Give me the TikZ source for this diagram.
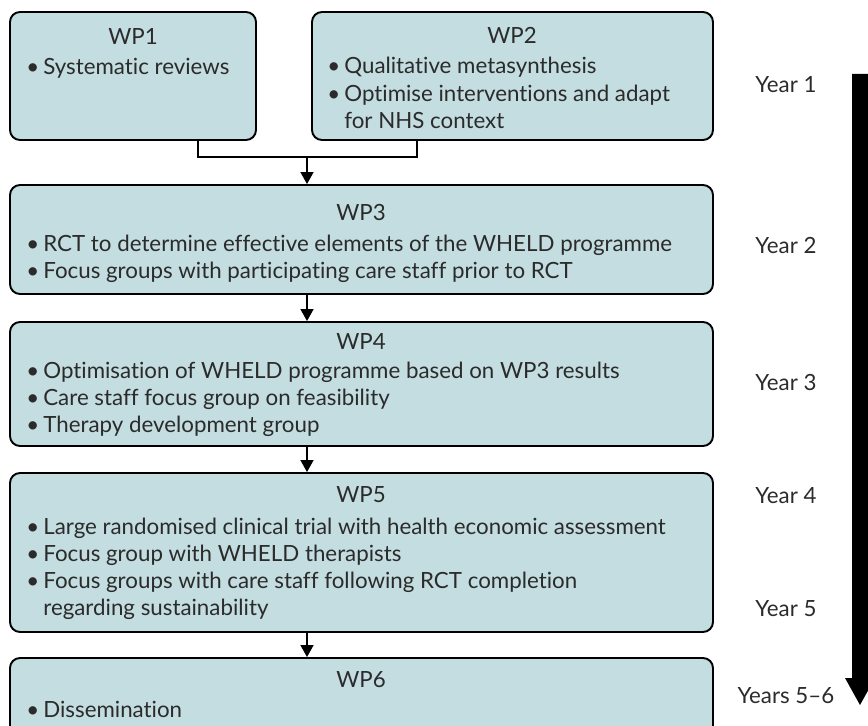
\documentclass[tikz,border=0pt]{standalone}
\usepackage{fontspec}
\setmainfont{Lato}[Ligatures=NoCommon]
\usetikzlibrary{arrows.meta,fit}
\definecolor{wpfill}{HTML}{C3DDE0}
\definecolor{wptext}{HTML}{2B2B2B}

\newcommand{\wpitem}{\makebox[0.34cm][l]{\textbullet}}
\newcommand{\wpcont}{\hspace*{0.34cm}}
\newcommand{\wplines}[1]{\begin{tabular}[t]{@{}l@{}}#1\end{tabular}}

\tikzset{
  wpbox/.style={draw=black, line width=1.1pt, fill=wpfill, rounded corners=0.2cm, inner sep=0pt},
  wptitle/.style={anchor=base, inner sep=0pt, text=wptext},
  wplist/.style={anchor=base west, inner sep=0pt, text=wptext},
  yearlabel/.style={anchor=base, inner sep=0pt, text=wptext},
  link/.style={line width=0.85pt, -{Triangle[width=0.26cm,length=0.24cm]}},
}

\begin{document}
\begin{tikzpicture}[x=0.02cm, y=-0.02cm, font=\fontsize{12.7}{15.5}\selectfont]
    \useasboundingbox (0,0) rectangle (868,726);
    \clip (0,0) rectangle (868,726);

    % work package boxes
    \node[wpbox, fit={(10,12) (256,140)}] (wp1) {};
    \node[wpbox, fit={(312,12) (713,140)}] (wp2) {};
    \node[wpbox, fit={(10,185) (713,294)}] (wp3) {};
    \node[wpbox, fit={(10,322) (713,446)}] (wp4) {};
    \node[wpbox, fit={(10,473) (713,632)}] (wp5) {};
    \node[wpbox, fit={(10,658) (713,740)}] (wp6) {};

    % box texts
    \node (wp1t) at (133,45) [wptitle] {WP1};
    \node (wp1l) at (26,75) [wplist] {\wplines{\wpitem Systematic reviews}};

    \node (wp2t) at (512,44) [wptitle] {WP2};
    \node (wp2l) at (327,74) [wplist] {\wplines{\wpitem Qualitative metasynthesis\\
        \wpitem Optimise interventions and adapt\\
        \wpcont for NHS context}};

    \node (wp3t) at (361,220) [wptitle] {WP3};
    \node (wp3l) at (26,251) [wplist] {\wplines{\wpitem RCT to determine effective elements of the WHELD programme\\
        \wpitem Focus groups with participating care staff prior to RCT}};

    \node (wp4t) at (361,349) [wptitle] {WP4};
    \node (wp4l) at (26,378) [wplist] {\wplines{\wpitem Optimisation of WHELD programme based on WP3 results\\
        \wpitem Care staff focus group on feasibility\\
        \wpitem Therapy development group}};

    \node (wp5t) at (361,502) [wptitle] {WP5};
    \node (wp5l) at (26,534) [wplist] {\wplines{\wpitem Large randomised clinical trial with health economic assessment\\
        \wpitem Focus group with WHELD therapists\\
        \wpitem Focus groups with care staff following RCT completion\\
        \wpcont regarding sustainability}};

    \node (wp6t) at (361,687) [wptitle] {WP6};
    \node (wp6l) at (26,717) [wplist] {\wplines{\wpitem Dissemination}};

    % connectors
    \coordinate (wp1x) at (198,0);
    \coordinate (wp2x) at (417,0);
    \coordinate (join) at (307,157);
    \draw[line width=0.85pt] (wp1.south -| wp1x) |- (join) -| (wp2.south -| wp2x);
    \draw[link] (join) -- (wp3.north -| join);
    \draw[link] (wp3.south -| join) -- (wp4.north -| join);
    \draw[link] (wp4.south -| join) -- (wp5.north -| join);
    \draw[link] (wp5.south -| join) -- (wp6.north -| join);

    % years
    \node (y1) at (786,93) [yearlabel] {Year 1};
    \node (y2) at (786,253) [yearlabel] {Year 2};
    \node (y3) at (786,390) [yearlabel] {Year 3};
    \node (y4) at (786,503) [yearlabel] {Year 4};
    \node (y5) at (786,616) [yearlabel] {Year 5};
    \node (y56) at (786,703) [yearlabel] {Years 5–6};

    % time arrow
    \fill[black] (852,74) -- (868,74) -- (868,678) -- (875,678) -- (860,705)
        -- (845,678) -- (852,678) -- cycle;
\end{tikzpicture}
\end{document}
